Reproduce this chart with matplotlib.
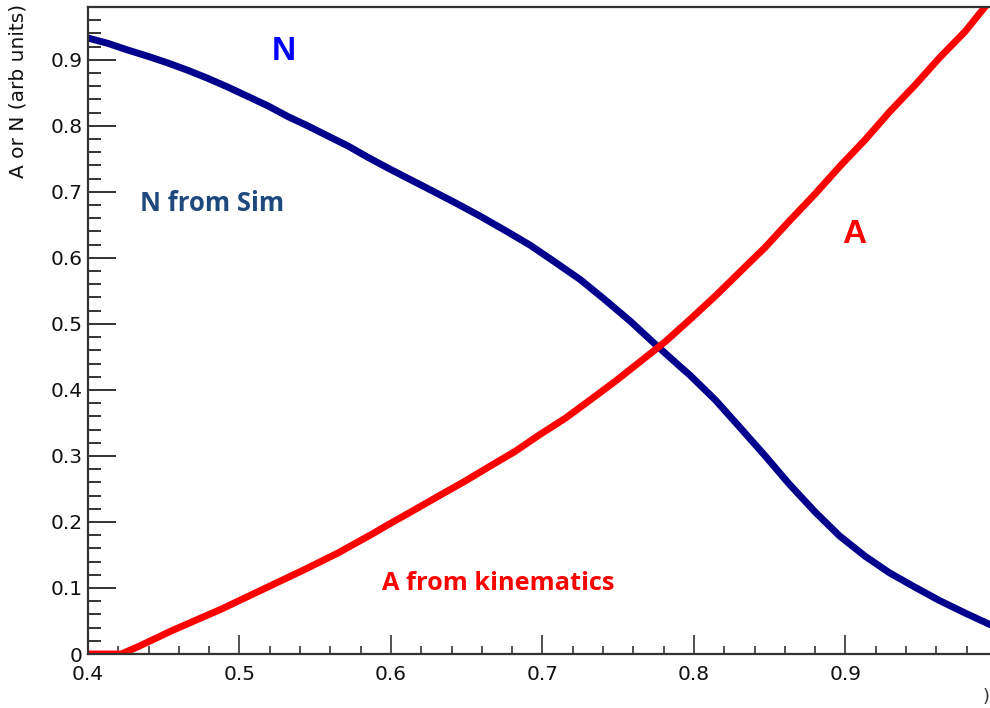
import numpy as np
import matplotlib
matplotlib.use("Agg")
from matplotlib import pyplot as plt
from matplotlib.ticker import MultipleLocator, FixedLocator, FixedFormatter

# N from simulation
n_x = [0.400, 0.413, 0.426, 0.440, 0.453, 0.466, 0.479, 0.492, 0.506, 0.519, 0.532,
       0.545, 0.558, 0.572, 0.585, 0.598, 0.609, 0.626, 0.642, 0.659, 0.675, 0.692,
       0.708, 0.725, 0.741, 0.758, 0.774, 0.791, 0.797, 0.814, 0.830, 0.847, 0.863,
       0.880, 0.896, 0.913, 0.929, 0.946, 0.962, 0.979, 0.995, 1.000]
n_y = [0.933, 0.925, 0.915, 0.905, 0.895, 0.884, 0.872, 0.859, 0.844, 0.830, 0.814,
       0.800, 0.785, 0.769, 0.752, 0.736, 0.723, 0.703, 0.684, 0.663, 0.642, 0.619,
       0.594, 0.567, 0.537, 0.504, 0.470, 0.435, 0.423, 0.385, 0.344, 0.300, 0.257,
       0.215, 0.179, 0.148, 0.123, 0.101, 0.081, 0.062, 0.045, 0.040]

# A from kinematics
a_x = [0.400, 0.422, 0.433, 0.444, 0.455, 0.466, 0.477, 0.488, 0.499, 0.521, 0.543,
       0.565, 0.587, 0.599, 0.616, 0.632, 0.649, 0.665, 0.682, 0.698, 0.715, 0.731,
       0.748, 0.764, 0.781, 0.797, 0.814, 0.830, 0.847, 0.863, 0.880, 0.896, 0.913,
       0.929, 0.946, 0.962, 0.979, 0.992, 1.000]
a_y = [0.000, 0.000, 0.011, 0.023, 0.035, 0.046, 0.057, 0.068, 0.080, 0.104, 0.128,
       0.153, 0.181, 0.197, 0.219, 0.240, 0.262, 0.284, 0.307, 0.332, 0.357, 0.384,
       0.413, 0.442, 0.473, 0.506, 0.542, 0.578, 0.616, 0.656, 0.697, 0.738, 0.779,
       0.821, 0.862, 0.903, 0.943, 0.980, 1.000]

x_ticks = [0.4, 0.5, 0.6, 0.7, 0.8, 0.9]
x_labels = ["0.4", "0.5", "0.6", "0.7", "0.8", "0.9"]
y_ticks = [0, 0.1, 0.2, 0.3, 0.4, 0.5, 0.6, 0.7, 0.8, 0.9]
y_labels = ["0", "0.1", "0.2", "0.3", "0.4", "0.5", "0.6", "0.7", "0.8", "0.9"]

plt.rcParams['font.family'] = ['DejaVu Sans']

W, H = 990, 708
fig = plt.figure(figsize=(W / 100, H / 100), dpi=100)
# right edge of the frame runs off the canvas
ax = fig.add_axes([88 / W, (H - 654) / H, 0.6 * 1515 / W, (654 - 7) / H])

ax.plot(n_x, n_y, color='#00008c', linewidth=5.0, solid_joinstyle='round')
ax.plot(a_x, a_y, color='#ff0000', linewidth=5.0, solid_joinstyle='round')

ax.set_xlim(0.4, 1.0)
ax.set_ylim(0, 0.98)

ax.xaxis.set_major_locator(FixedLocator(x_ticks))
ax.xaxis.set_major_formatter(FixedFormatter(x_labels))
ax.xaxis.set_minor_locator(MultipleLocator(0.02))
ax.yaxis.set_major_locator(FixedLocator(y_ticks))
ax.yaxis.set_major_formatter(FixedFormatter(y_labels))
ax.yaxis.set_minor_locator(MultipleLocator(0.02))

for side in ['left', 'bottom', 'top']:
    ax.spines[side].set_color('#333333')
    ax.spines[side].set_linewidth(1.6)
ax.spines['right'].set_visible(False)

ax.tick_params(axis='y', which='major', direction='in', length=20, width=1.4,
               color='#333333', labelsize=14.5, pad=4)
ax.tick_params(axis='y', which='minor', direction='in', length=9.5, width=1.4,
               color='#333333')
ax.tick_params(axis='x', which='major', direction='in', length=13.5, width=1.2,
               color='#333333', labelsize=14.5, pad=8)
ax.tick_params(axis='x', which='minor', direction='in', length=5.5, width=1.2,
               color='#333333')
ax.tick_params(labelcolor='#111111')

fig.text(18 / W, 1 - 4 / H, "A or N (arb units)", rotation=90, ha='center', va='top',
         fontsize=14.5, color='#111111')

# curve annotations
ax.text(0.529, 0.912, "N", color='#0000ff', fontsize=24, fontweight='bold',
        family=['Liberation Sans', 'DejaVu Sans'], ha='center', va='center')
ax.text(0.482, 0.682, "N from Sim", color='#1f497d', fontsize=18.5, fontweight='bold',
        family=['Open Sans', 'DejaVu Sans'], ha='center', va='center')
ax.text(0.906, 0.636, "A", color='#ff0000', fontsize=24, fontweight='bold',
        family=['Liberation Sans', 'DejaVu Sans'], ha='center', va='center')
ax.text(0.671, 0.107, "A from kinematics", color='#ff0000', fontsize=18.3, fontweight='bold',
        family=['Open Sans', 'DejaVu Sans'], ha='center', va='center')

fig.text(986 / W, 1 - 697 / H, ")", ha='center', va='center', fontsize=13, color='#333333')

fig.savefig('out.png', dpi=100)
plt.close(fig)
